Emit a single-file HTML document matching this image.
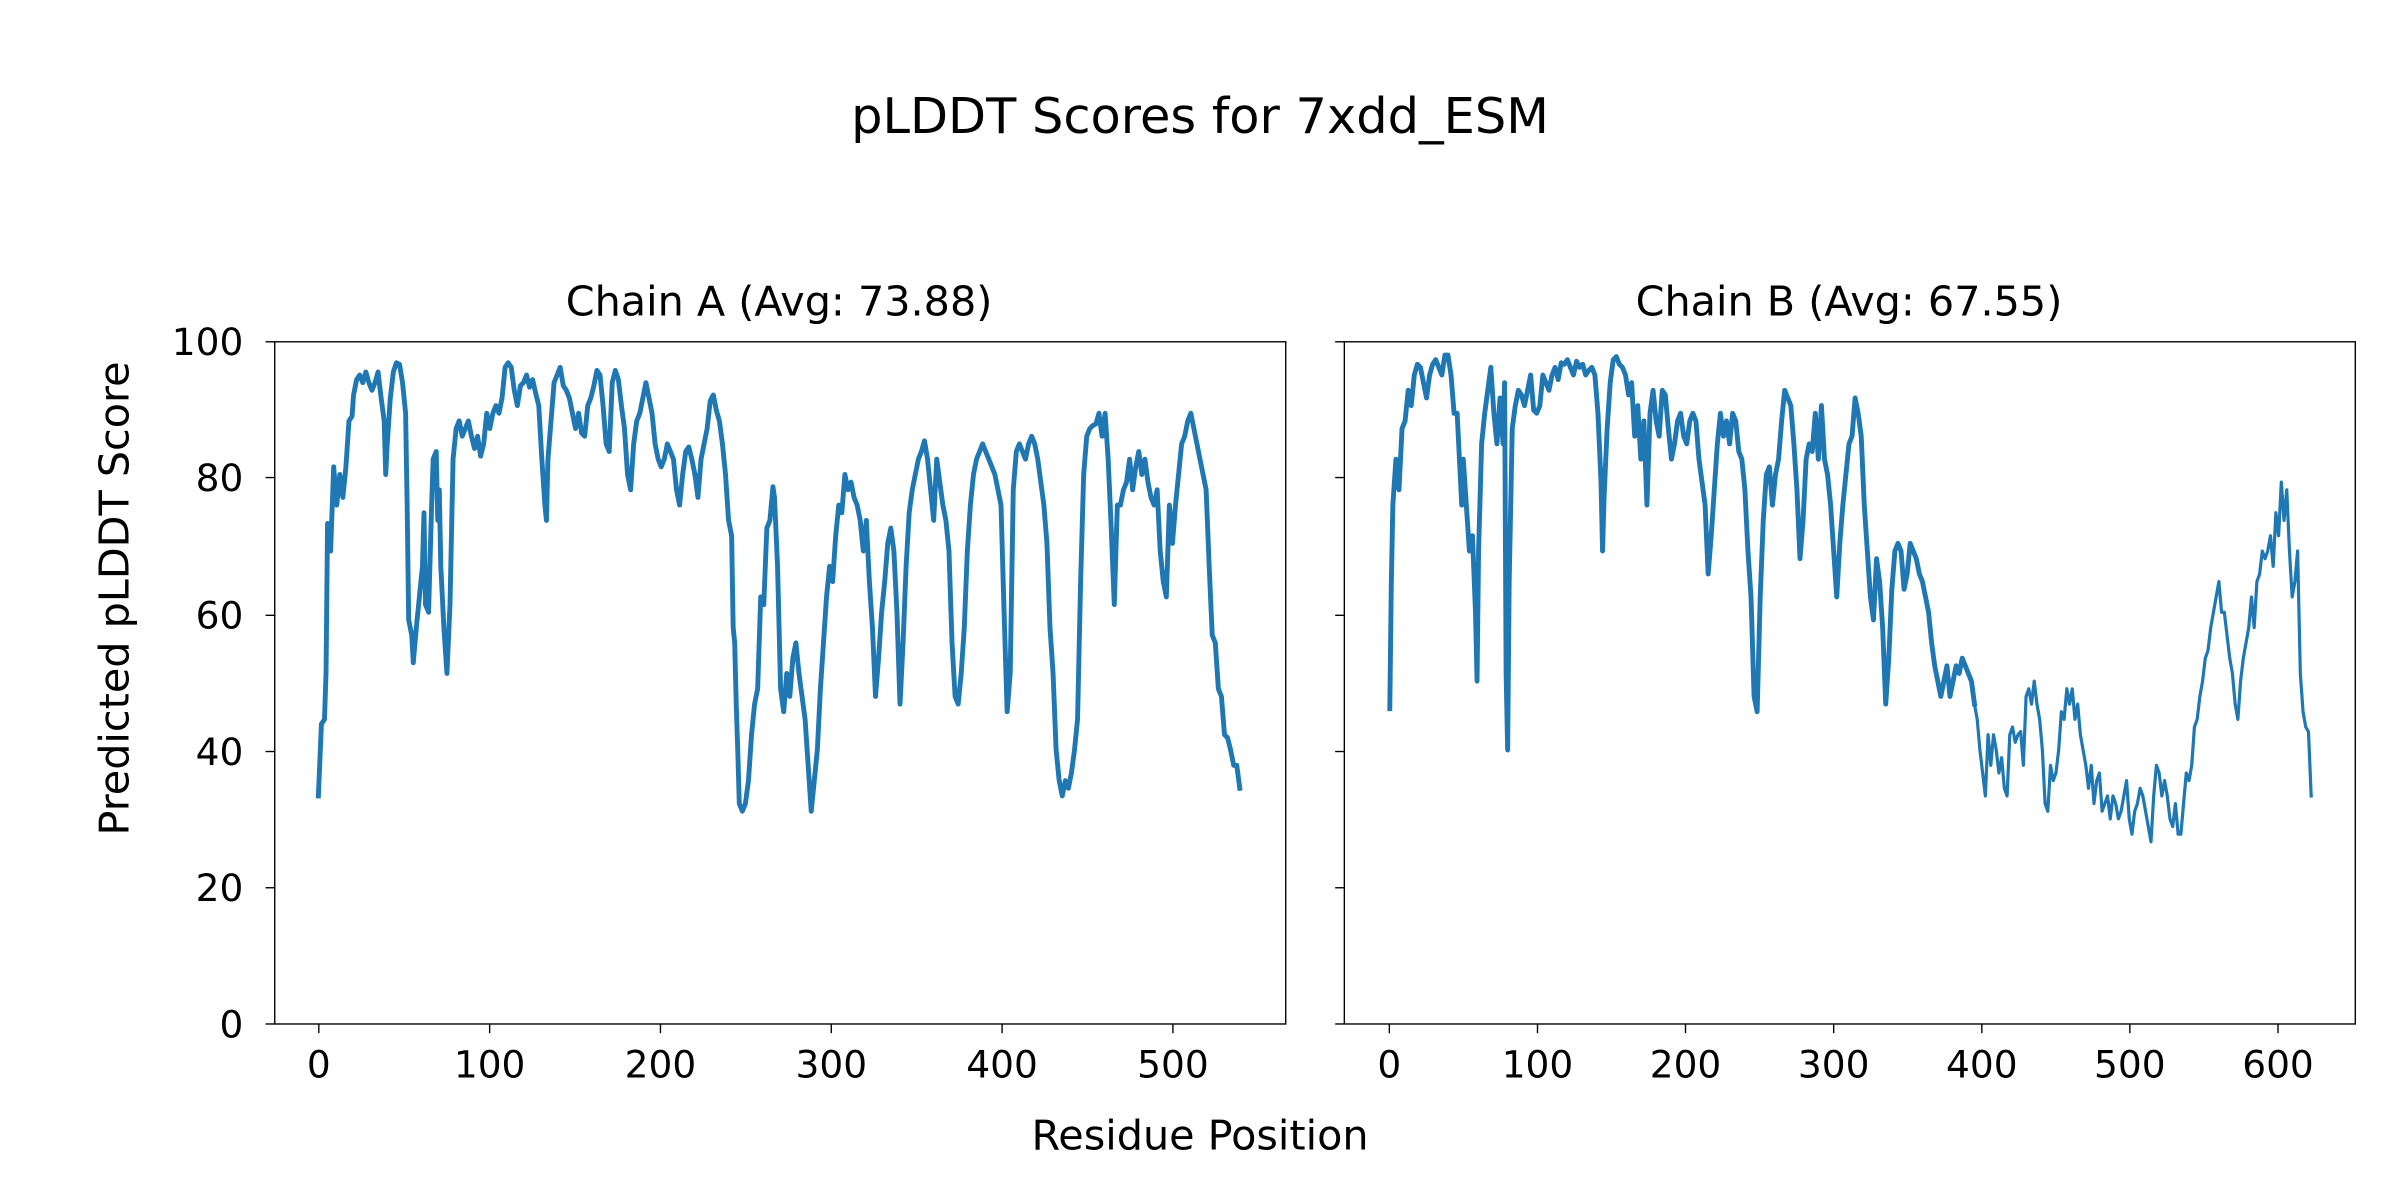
<!DOCTYPE html>
<html><head><meta charset="utf-8"><style>
html,body{margin:0;padding:0;background:#fff}
svg{display:block}
text{font-family:"DejaVu Sans","Liberation Sans",sans-serif;fill:#000}
</style></head><body>
<svg width="2400" height="1200" viewBox="0 0 1568 784" xmlns="http://www.w3.org/2000/svg">
<rect width="1568" height="784" fill="#fff"/>
<text x="784" y="87" font-size="32.3" text-anchor="middle">pLDDT Scores for 7xdd_ESM</text>
<text x="509" y="206" font-size="27" text-anchor="middle">Chain A (Avg: 73.88)</text>
<text x="1208" y="206" font-size="27" text-anchor="middle">Chain B (Avg: 67.55)</text>
<text x="784" y="751" font-size="27" text-anchor="middle">Residue Position</text>
<text transform="translate(84,391) rotate(-90)" font-size="27" text-anchor="middle">Predicted pLDDT Score</text>
<g font-size="24.5" text-anchor="end">
<text x="159" y="677.7">0</text><text x="159" y="588.7">20</text><text x="159" y="499.7">40</text><text x="159" y="410.7">60</text><text x="159" y="320.7">80</text><text x="159" y="232">100</text>
</g>
<g stroke="#000" stroke-width="0.9">
<line x1="173.5" y1="669" x2="179.5" y2="669"/><line x1="173.5" y1="580" x2="179.5" y2="580"/><line x1="173.5" y1="491" x2="179.5" y2="491"/><line x1="173.5" y1="402" x2="179.5" y2="402"/><line x1="173.5" y1="312" x2="179.5" y2="312"/><line x1="173.5" y1="223.3" x2="179.5" y2="223.3"/>
<line x1="872.3" y1="669" x2="878.3" y2="669"/><line x1="872.3" y1="580" x2="878.3" y2="580"/><line x1="872.3" y1="491" x2="878.3" y2="491"/><line x1="872.3" y1="402" x2="878.3" y2="402"/><line x1="872.3" y1="312" x2="878.3" y2="312"/><line x1="872.3" y1="223.3" x2="878.3" y2="223.3"/>
</g>
<g stroke="#000" stroke-width="0.9">
<line x1="208.3" y1="669" x2="208.3" y2="675"/><line x1="319.9" y1="669" x2="319.9" y2="675"/><line x1="431.5" y1="669" x2="431.5" y2="675"/><line x1="543.1" y1="669" x2="543.1" y2="675"/><line x1="654.7" y1="669" x2="654.7" y2="675"/><line x1="766.3" y1="669" x2="766.3" y2="675"/>
<line x1="907.7" y1="669" x2="907.7" y2="675"/><line x1="1004.5" y1="669" x2="1004.5" y2="675"/><line x1="1101.2" y1="669" x2="1101.2" y2="675"/><line x1="1198" y1="669" x2="1198" y2="675"/><line x1="1294.8" y1="669" x2="1294.8" y2="675"/><line x1="1391.5" y1="669" x2="1391.5" y2="675"/><line x1="1488.3" y1="669" x2="1488.3" y2="675"/>
</g>
<g font-size="24.5" text-anchor="middle">
<text x="208.3" y="704">0</text><text x="319.9" y="704">100</text><text x="431.5" y="704">200</text><text x="543.1" y="704">300</text><text x="654.7" y="704">400</text><text x="766.3" y="704">500</text>
<text x="907.7" y="704">0</text><text x="1004.5" y="704">100</text><text x="1101.2" y="704">200</text><text x="1198" y="704">300</text><text x="1294.8" y="704">400</text><text x="1391.5" y="704">500</text><text x="1488.3" y="704">600</text>
</g>
<g fill="none" stroke="#1f77b4" stroke-width="3.2" stroke-linejoin="round" stroke-linecap="square">
<polyline points="208,520 210,473 212,470 213,440 214,342 216,360 218,305 220,330 222,310 224,325 226,305 228,275 230,272 231,258 233,248 235,245 237,250 239,243 241,250 243,255 245,250 247,243 249,260 251,275 252,310 253,290 255,260 257,243 259,237 261,238 263,250 265,270 266,330 267,405 269,415 270,433 272,410 274,390 276,370 277,335 278,395 280,400 282,330 283,300 285,295 286,340 287,320 288,370 290,410 292,440 294,395 296,300 298,280 300,275 302,285 304,280 306,275 308,285 310,293 312,285 314,298 316,290 318,270 320,280 322,270 324,265 326,270 328,260 330,240 332,237 334,240 336,255 338,265 340,252 342,250 344,245 346,253 348,248 350,257 352,265 354,300 356,330 357,340 358,300 360,275 362,250 364,245 366,240 368,252 370,255 372,260 374,270 376,280 378,270 380,283 382,285 384,265 386,260 388,252 390,242 392,245 394,265 396,290 398,295 400,250 402,242 404,248 406,265 408,280 410,310 412,320 414,290 416,275 418,270 420,260 422,250 424,260 426,270 428,290 430,300 432,305 434,300 436,290 438,295 440,300 442,320 444,330 446,310 448,295 450,292 452,300 454,310 456,325 458,300 460,290 462,280 464,262 466,258 468,268 470,275 472,290 474,310 476,340 478,350 479,410 480,420 481,460 482,490 483,525 485,530 487,525 489,510 491,480 493,460 495,450 497,390 499,395 501,345 503,340 505,318 506,325 508,370 510,450 512,465 514,440 516,455 518,430 520,420 522,440 524,455 526,470 528,500 530,530 532,510 534,490 536,450 538,420 540,390 542,370 544,380 546,350 548,330 550,335 552,310 554,320 556,315 558,325 560,330 562,340 564,360 566,340 568,380 570,410 572,455 574,430 576,400 578,380 580,355 582,345 584,360 586,400 588,460 590,420 592,370 594,335 596,320 598,310 600,300 602,295 604,288 606,300 608,320 610,340 612,300 614,315 616,330 618,340 620,360 622,420 624,455 626,460 628,440 630,410 632,360 634,330 636,310 638,300 640,295 642,290 644,295 646,300 648,305 650,310 652,320 654,330 656,400 658,465 660,440 662,320 664,295 666,290 668,295 670,300 672,290 674,285 676,290 678,300 680,315 682,330 684,355 686,410 688,440 690,490 692,510 694,520 696,510 698,515 700,505 702,490 704,470 706,380 708,310 710,285 712,280 714,278 716,277 718,270 720,285 722,270 724,300 726,345 728,395 730,330 732,330 734,320 736,315 738,300 740,320 742,305 744,295 746,310 748,300 750,315 752,325 754,330 756,320 758,360 760,380 762,390 764,330 766,355 768,330 770,310 772,290 774,285 776,275 778,270 780,280 782,290 784,300 786,310 788,320 790,370 792,415 794,420 796,450 798,455 800,480 802,482 804,490 806,500 808,500 810,515"/>
<polyline points="908,463 909,380 910,330 912,300 914,320 916,280 918,275 920,255 922,265 924,245 926,238 928,240 930,250 932,260 934,245 936,238 938,235 940,240 942,245 944,232 946,232 948,245 950,270 952,270 954,310 955,330 956,300 958,330 960,360 962,350 964,400 965,445 966,360 968,290 970,270 972,255 974,240 976,270 978,290 980,260 982,290 983,250 984,440 985,490 986,380 988,280 990,265 992,255 994,258 996,265 998,255 1000,245 1002,268 1004,270 1006,265 1008,245 1010,250 1012,255 1014,245 1016,240 1018,248 1020,237 1022,238 1024,235 1026,240 1028,245 1030,236 1032,240 1034,238 1036,245 1038,242 1040,240 1042,245 1044,270 1046,315 1047,360 1048,325 1050,280 1052,250 1054,235 1056,233 1058,238 1060,240 1062,245 1064,258 1066,250 1068,285 1070,265 1072,300 1074,275 1076,330 1078,270 1080,255 1082,275 1084,285 1086,255 1088,258 1090,280 1092,300 1094,290 1096,275 1098,270 1100,285 1102,290 1104,275 1106,270 1108,275 1110,300 1112,315 1114,330 1116,375 1118,350 1120,320 1122,290 1124,270 1126,285 1128,275 1130,290 1132,270 1134,275 1136,295 1138,300 1140,320 1142,360 1144,390 1146,455 1148,465 1150,390 1152,340 1154,310 1156,305 1158,330 1160,310 1162,300 1164,275 1166,255 1168,260 1170,265 1172,290 1174,320 1176,365 1178,340 1180,300 1182,290 1184,295 1186,270 1188,300 1190,265 1192,300 1194,310 1196,330 1198,360 1200,390 1202,355 1204,330 1206,310 1208,290 1210,285 1212,260 1214,270 1216,285 1218,330 1220,360 1222,390 1224,405 1226,365 1228,380 1230,410 1232,460 1234,430 1236,385 1238,360 1240,355 1242,360 1244,385 1246,375 1248,355 1250,360 1252,365 1254,375 1256,380 1258,390 1260,400 1262,420 1264,435 1266,445 1268,455 1270,445 1272,435 1274,455 1276,445 1278,435 1280,440 1282,430 1284,435 1286,440 1288,445 1290,460"/>
<polyline vector-effect="non-scaling-stroke" transform="translate(1290,0) scale(0.887,1) translate(-1290,0)" points="1290,460 1292,470 1294,490 1296,505 1298,520 1300,480 1302,500 1304,480 1306,490 1308,505 1310,495 1312,515 1314,520 1316,480 1318,475 1320,485 1322,480 1324,478 1326,500 1328,455 1330,450 1332,460 1334,445 1336,460 1338,470 1340,490 1342,525 1344,530 1346,500 1348,510 1350,505 1352,490 1354,465 1356,470 1358,450 1360,460 1362,450 1364,470 1366,460 1368,480 1370,490 1372,500 1374,515 1376,500 1378,525 1380,510 1382,505 1384,530 1386,525 1388,520 1390,535 1392,520 1394,525 1396,535 1398,530 1400,520 1402,510 1404,535 1406,545 1408,530 1410,525 1412,515 1414,520 1416,530 1418,540 1420,550 1422,520 1424,500 1426,505 1428,520 1430,510 1432,520 1434,535 1436,540 1438,525 1440,545 1442,545 1444,525 1446,505 1448,510 1450,500 1452,475 1454,470 1456,455 1458,445 1460,430 1462,425 1464,410 1466,400 1468,390 1470,380 1472,400 1474,400 1476,415 1478,430 1480,440 1482,460 1484,470 1486,445 1488,430 1490,420 1492,410 1494,390 1496,410 1498,380 1500,375 1502,360 1504,365 1506,360 1508,350 1510,370 1512,335 1514,350 1516,315 1518,340 1520,320 1522,360 1524,390 1526,380 1528,360 1530,440 1532,465 1534,475 1536,478 1538,520"/>
</g>
<g fill="none" stroke="#000" stroke-width="0.9">
<rect x="179.5" y="223.3" width="660.5" height="445.7"/>
<rect x="878.3" y="223.3" width="660.5" height="445.7"/>
</g>
</svg>
</body></html>
